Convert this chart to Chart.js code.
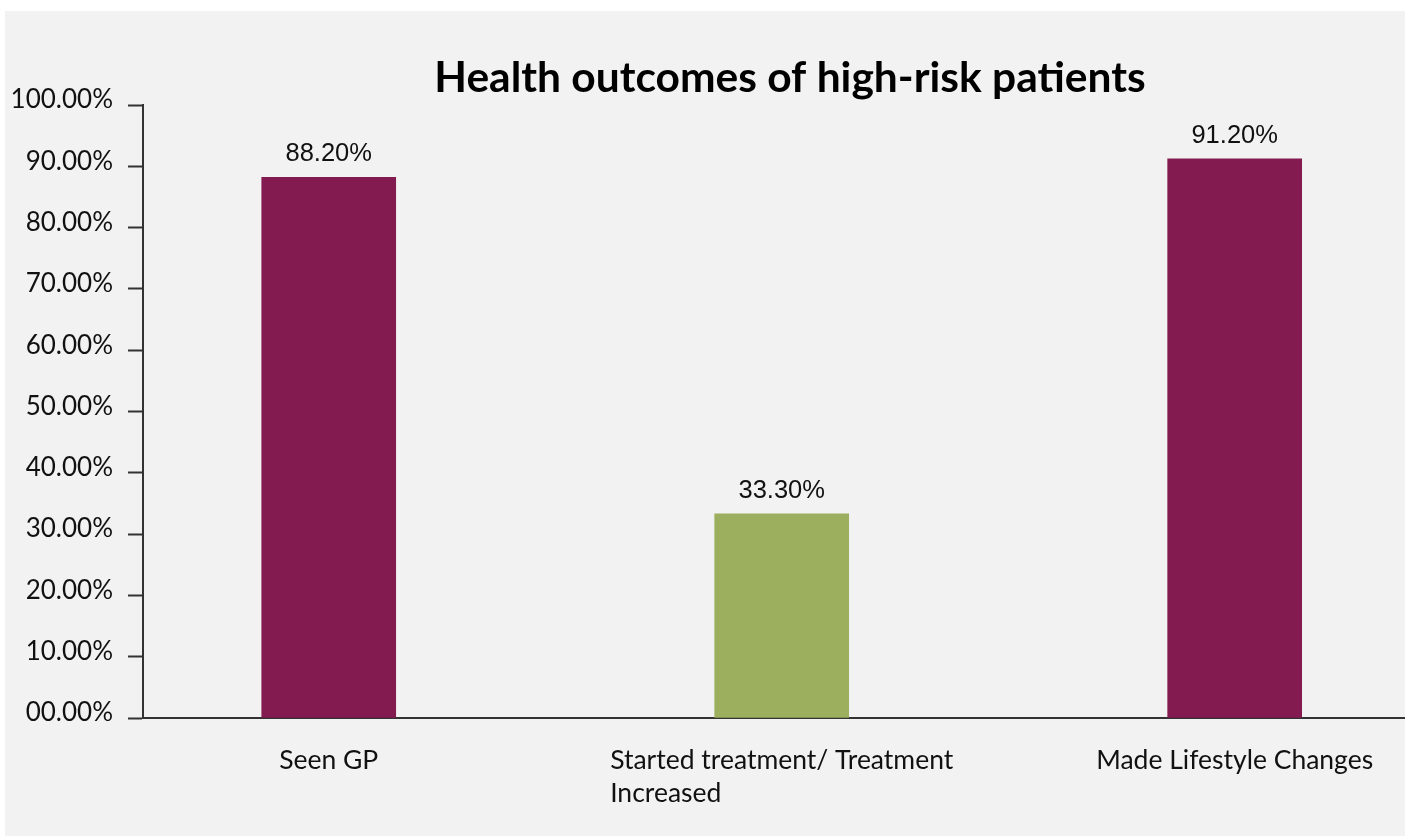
<!DOCTYPE html>
<html>
<head>
<meta charset="utf-8">
<script src="https://cdn.jsdelivr.net/npm/chart.js@4"></script>
<style>
html,body{margin:0;padding:0;background:#fff;}
#wrap{position:absolute;left:5px;top:11px;width:1400px;height:825px;background:#f2f2f2;}
</style>
</head>
<body>
<div id="wrap"><canvas id="chart"></canvas></div>
<script>
// ============ DATA ============
const chartTitle = 'Health outcomes of high-risk patients';
const categories = ['Seen GP', ['Started treatment/ Treatment', 'Increased'], 'Made Lifestyle Changes'];
const values = [88.2, 33.3, 91.2];
const yMin = 0, yMax = 100, yStep = 10;

const MAROON = '#831b51', GREEN = '#9caf5f';
const barColors = [MAROON, GREEN, MAROON];

const fmtPct = v => (v < 10 ? '0' : '') + v.toFixed(2) + '%';

// value labels above bars, wrapped category labels, title
const textPlugin = {
  id: 'textPlugin',
  afterDatasetsDraw(chart) {
    const ctx = chart.ctx;
    const meta = chart.getDatasetMeta(0);
    ctx.save();
    ctx.fillStyle = '#111';
    ctx.font = '25.5px "Liberation Sans", Arial, sans-serif';
    ctx.textAlign = 'center';
    ctx.textBaseline = 'alphabetic';
    meta.data.forEach((bar, i) => ctx.fillText(values[i].toFixed(2) + '%', bar.x, bar.y - 16));

    const xs = chart.scales.x;
    ctx.font = '26.5px Lato, sans-serif';
    ctx.textBaseline = 'middle';
    ctx.textAlign = 'left';
    categories.forEach((lab, i) => {
      const lines = Array.isArray(lab) ? lab : [lab];
      const x = xs.getPixelForValue(i);
      const w = Math.max(...lines.map(l => ctx.measureText(l).width));
      lines.forEach((l, j) => ctx.fillText(l, x - w / 2, xs.bottom + 42 + j * 33));
    });

    ctx.fillStyle = '#000';
    ctx.font = 'bold 42.5px Lato, sans-serif';
    ctx.textAlign = 'center';
    ctx.textBaseline = 'alphabetic';
    ctx.fillText(chartTitle, 785, 81);
    ctx.restore();
  }
};

new Chart(document.getElementById('chart'), {
  type: 'bar',
  data: {
    labels: categories,
    datasets: [{ data: values, backgroundColor: barColors, borderWidth: 0, barThickness: 134 }]
  },
  options: {
    responsive: true, maintainAspectRatio: false, animation: false,
    layout: { padding: { top: 94, right: 0, bottom: 118, left: 0 } },
    plugins: { legend: { display: false }, tooltip: { enabled: false }, title: { display: false } },
    scales: {
      x: {
        ticks: { display: false },
        grid: { display: false },
        border: { color: '#333', width: 2 },
        afterBuildTicks: s => { s._startValue = -0.41; s._valueRange = 2.786; },
        afterFit: s => { s.height = 0; }
      },
      y: {
        min: yMin, max: yMax,
        ticks: { stepSize: yStep, padding: 15, labelOffset: -5, color: '#111', font: { family: 'Lato', size: 26 }, callback: v => fmtPct(v) },
        grid: { drawOnChartArea: false, tickLength: 15, tickWidth: 2, tickColor: '#333' },
        border: { color: '#333', width: 2 },
        afterFit: s => { s.width = 138; }
      }
    }
  },
  plugins: [textPlugin]
});
</script>
</body>
</html>
